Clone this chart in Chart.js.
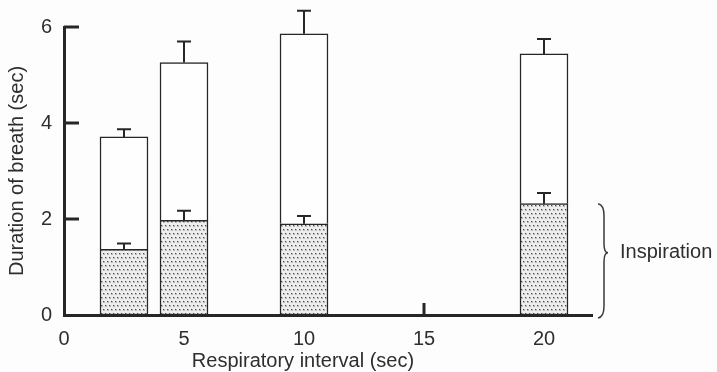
<!DOCTYPE html>
<html>
<head>
<meta charset="utf-8">
<script src="https://cdn.jsdelivr.net/npm/chart.js@4.4.1/dist/chart.umd.min.js"></script>
<style>
  html, body { margin: 0; padding: 0; background: #fdfdfd; }
</style>
</head>
<body>
<canvas id="breathChart" width="717" height="372"></canvas>
<script>
// respiratory interval (sec) for each group
var intervals = [2.5, 5, 10, 20];
// mean inspiration time and SEM (sec)
var inspiration = [1.37, 1.97, 1.90, 2.32];
var inspirationSem = [0.12, 0.20, 0.16, 0.22];
// mean total breath duration and SEM (sec)
var totalBreath = [3.71, 5.26, 5.86, 5.44];
var totalSem = [0.16, 0.44, 0.48, 0.31];

var xTicks = [0, 5, 10, 15, 20];
var yTicks = [0, 2, 4, 6];

var ink = '#262626';
var textColor = '#2e2e2e';
var fontFamily = '"Liberation Sans", Arial, Helvetica, sans-serif';

function makeStipple() {
  var tile = document.createElement('canvas');
  tile.width = 4;
  tile.height = 8;
  var t = tile.getContext('2d');
  t.fillStyle = '#eeeeee';
  t.fillRect(0, 0, 4, 8);
  t.fillStyle = '#b8b8b8';
  t.fillRect(1, 1, 2, 2);
  t.fillRect(3, 5, 1, 2);
  t.fillRect(0, 5, 1, 2);
  t.fillStyle = '#4a4a4a';
  t.fillRect(1, 1, 1, 1);
  t.fillRect(3, 5, 1, 1);
  return t.createPattern(tile, 'repeat');
}

function drawBrace(ctx, x, top, tip, bottom) {
  ctx.beginPath();
  ctx.moveTo(x, top);
  ctx.quadraticCurveTo(x + 6, top + 1, x + 6, top + 12);
  ctx.lineTo(x + 6, tip - 9);
  ctx.quadraticCurveTo(x + 6, tip, x + 10, tip);
  ctx.quadraticCurveTo(x + 6, tip, x + 6, tip + 9);
  ctx.lineTo(x + 6, bottom - 12);
  ctx.quadraticCurveTo(x + 6, bottom - 1, x, bottom);
  ctx.stroke();
}

var extras = {
  id: 'extras',
  // inward tick marks, drawn under the bars
  beforeDatasetsDraw: function (chart) {
    var ctx = chart.ctx, area = chart.chartArea;
    var xs = chart.scales.x, ys = chart.scales.y;
    ctx.save();
    ctx.strokeStyle = ink;
    ctx.lineWidth = 3;
    ctx.beginPath();
    yTicks.forEach(function (v) {
      if (v === 0) return;
      var py = ys.getPixelForValue(v);
      ctx.moveTo(area.left, py);
      ctx.lineTo(area.left + 15, py);
    });
    xTicks.forEach(function (v) {
      if (v === 0) return;
      var px = xs.getPixelForValue(v);
      ctx.moveTo(px, area.bottom);
      ctx.lineTo(px, area.bottom - 12);
    });
    ctx.stroke();
    ctx.restore();
  },
  afterDatasetsDraw: function (chart) {
    var ctx = chart.ctx, area = chart.chartArea;
    var xs = chart.scales.x, ys = chart.scales.y;
    ctx.save();
    ctx.strokeStyle = ink;
    ctx.lineWidth = 2;
    ctx.beginPath();
    intervals.forEach(function (x, i) {
      var px = xs.getPixelForValue(x);
      [[inspiration[i], inspirationSem[i]], [totalBreath[i], totalSem[i]]].forEach(function (e) {
        var y0 = ys.getPixelForValue(e[0]);
        var y1 = ys.getPixelForValue(e[0] + e[1]);
        ctx.moveTo(px, y0);
        ctx.lineTo(px, y1);
        ctx.moveTo(px - 7, y1);
        ctx.lineTo(px + 7, y1);
      });
    });
    ctx.stroke();

    // brace marking the inspiration part of the bars
    var braceTop = ys.getPixelForValue(Math.max.apply(null, inspiration));
    var braceBottom = area.bottom + 3;
    var tip = braceTop + (braceBottom - braceTop) * 0.43;
    ctx.lineWidth = 1.5;
    ctx.strokeStyle = '#3a3a3a';
    drawBrace(ctx, area.right + 6, braceTop, tip, braceBottom);

    ctx.fillStyle = textColor;
    ctx.font = '20px ' + fontFamily;
    ctx.textBaseline = 'middle';
    ctx.textAlign = 'left';
    ctx.fillText('Inspiration', area.right + 28, tip);

    ctx.textAlign = 'center';
    ctx.textBaseline = 'alphabetic';
    ctx.fillText('Respiratory interval (sec)', 303, 367);
    ctx.restore();
  }
};

var stipple = makeStipple();

new Chart('breathChart', {
  type: 'bar',
  data: {
    datasets: [{
      label: 'Inspiration',
      data: intervals.map(function (x, i) { return { x: x, y: [0, inspiration[i]] }; }),
      backgroundColor: stipple,
      borderColor: ink,
      borderWidth: 1.5,
      borderSkipped: false,
    }, {
      label: 'Expiration',
      data: intervals.map(function (x, i) { return { x: x, y: [inspiration[i], totalBreath[i]] }; }),
      backgroundColor: '#fefefe',
      borderColor: ink,
      borderWidth: 1.5,
      borderSkipped: 'bottom',
    }]
  },
  options: {
    responsive: false,
    animation: false,
    devicePixelRatio: 1,
    grouped: false,
    barThickness: 48,
    layout: { padding: { top: 27, right: 125, left: 0, bottom: 0 } },
    plugins: {
      legend: { display: false },
      tooltip: { enabled: false },
    },
    scales: {
      x: {
        type: 'linear',
        min: 0,
        max: 22,
        offset: false,
        afterBuildTicks: function (scale) {
          scale.ticks = xTicks.map(function (v) { return { value: v }; });
        },
        afterFit: function (scale) { scale.height = 57; },
        grid: { display: false, drawTicks: false },
        border: { display: true, width: 3, color: ink },
        ticks: {
          padding: 12,
          color: textColor,
          font: { family: fontFamily, size: 20 },
          maxRotation: 0,
        },
      },
      y: {
        min: 0,
        max: 6,
        afterBuildTicks: function (scale) {
          scale.ticks = yTicks.map(function (v) { return { value: v }; });
        },
        afterFit: function (scale) { scale.width = 64; },
        grid: { display: false, drawTicks: false },
        border: { display: true, width: 3, color: ink },
        ticks: {
          padding: 12,
          color: textColor,
          font: { family: fontFamily, size: 20 },
        },
        title: {
          display: true,
          text: 'Duration of breath (sec)',
          color: textColor,
          font: { family: fontFamily, size: 20 },
          padding: { top: 5, bottom: 0 },
        },
      },
    },
  },
  plugins: [extras],
});
</script>
</body>
</html>
